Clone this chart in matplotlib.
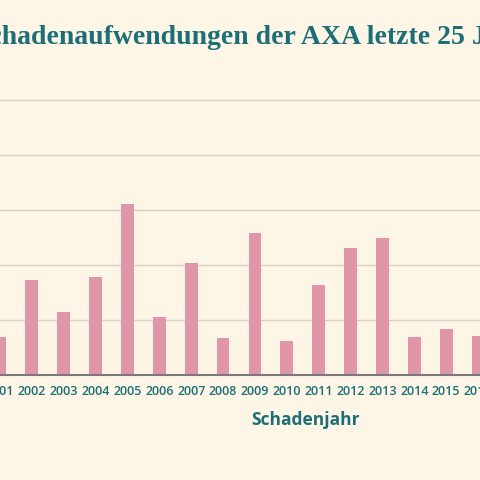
import matplotlib
matplotlib.use("Agg")
import matplotlib.pyplot as plt

years = [2001, 2002, 2003, 2004, 2005, 2006, 2007, 2008, 2009, 2010, 2011, 2012, 2013, 2014, 2015, 2016]
values = [0.69, 1.73, 1.15, 1.78, 3.11, 1.05, 2.04, 0.67, 2.58, 0.62, 1.64, 2.31, 2.49, 0.69, 0.84, 0.71]

bg = "#fdf5e6"
teal = "#1d6e76"
fig = plt.figure(figsize=(4.8, 4.8), dpi=100, facecolor=bg)
ax = fig.add_axes([0, 105/480, 1, 285/480], facecolor=bg)
ax.bar(years, values, width=0.4, color="#e095a9", zorder=2)
ax.set_xlim(2001.155, 2016.062)
ax.set_ylim(0, 285/55)
ax.set_yticks([1, 2, 3, 4, 5])
ax.yaxis.grid(True, color="#d9d0c6", lw=1, zorder=0)
ax.tick_params(axis="y", length=0, labelleft=False)
ax.set_xticks(years)
ax.set_xticklabels([str(y) for y in years], color=teal, fontsize=9, family="Open Sans", fontweight="semibold")
ax.tick_params(axis="x", length=0, pad=7)
for s in ["top", "left", "right"]:
    ax.spines[s].set_visible(False)
ax.spines["bottom"].set_color("#7a7a7a")
ax.spines["bottom"].set_linewidth(1.5)
fig.text(306/480, 1 - 420/480, "Schadenjahr", ha="center", va="center",
         color=teal, fontsize=12.5, fontweight="bold", family="Open Sans")
fig.text(-26/480, 1 - 38/480, "Schadenaufwendungen der AXA letzte 25 Jahre", ha="left", va="center",
         color=teal, fontsize=20, fontweight="bold", family="Liberation Serif")
fig.savefig("out.png", dpi=100, facecolor=bg)
